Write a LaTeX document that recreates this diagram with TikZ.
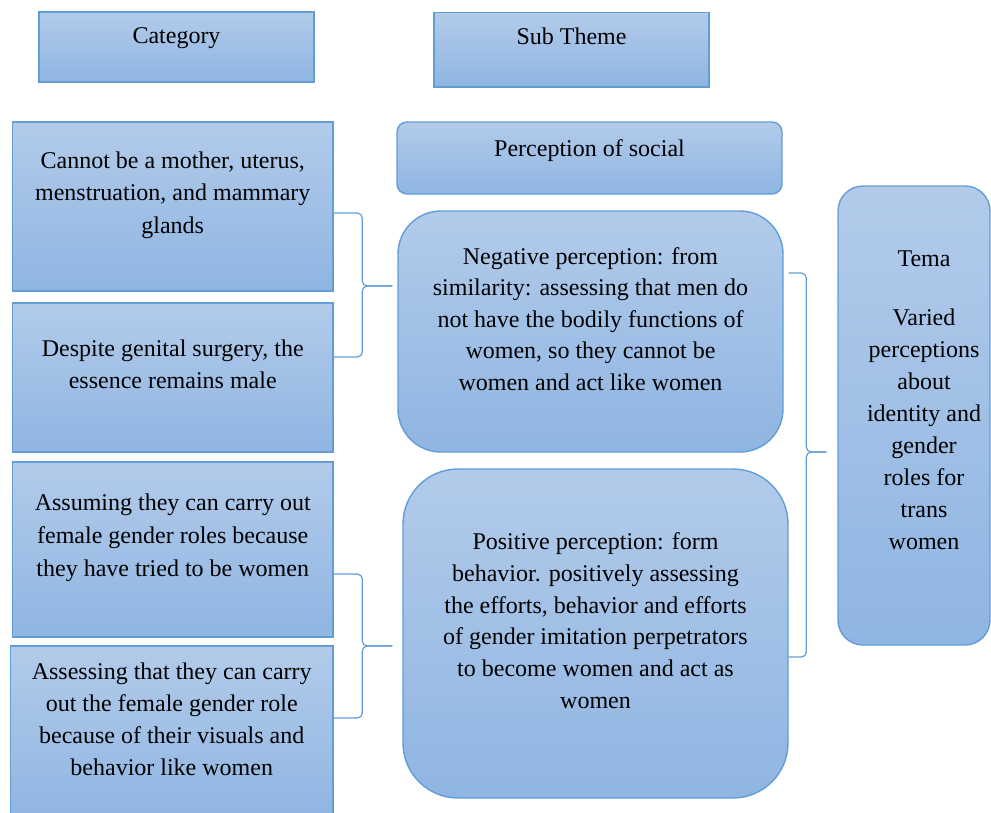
\documentclass[tikz,border=0pt]{standalone}
\usepackage{fontspec}
\setmainfont{Liberation Serif}
\usetikzlibrary{positioning}

\definecolor{boxtop}{RGB}{178,203,234}
\definecolor{boxbot}{RGB}{143,181,226}
\definecolor{boxline}{RGB}{98,157,214}

\begin{document}
\begin{tikzpicture}[x=1pt, y=-1pt,
        box/.style={rectangle, draw=boxline, line width=1.4pt, top color=boxtop, bottom color=boxbot, inner sep=0pt},
        txt/.style={align=center, inner sep=0pt, font=\fontsize{24}{#1}\selectfont},
        txt/.default=32,
        brc/.style={draw=boxline, line width=1.2pt, rounded corners=5pt}]
    \useasboundingbox (0,0) rectangle (991,812);

    % headings
    \node [box, minimum width=275pt, minimum height=70pt] (cat) at (176.5,47) {};
    \node [box, minimum width=275pt, minimum height=74.5pt] (sub) at (571.5,49.75) {};
    \node [txt, below=16pt of cat.north] (cattxt) {Category};
    \node [txt, below=15.5pt of sub.north] (subtxt) {Sub Theme};

    % categories
    \node [box, minimum width=320.5pt, minimum height=169pt] (c1) at (172.75,206.5) {};
    \node [box, minimum width=320.5pt, minimum height=149pt] (c2) at (172.75,377.5) {};
    \node [box, minimum width=320.5pt, minimum height=175pt] (c3) at (172.75,549.5) {};
    \node [box, minimum width=322.5pt, minimum height=176pt] (c4) at (171.75,734) {};
    \node [txt=32.5, below=30pt of c1.north] (c1txt) {Cannot be a mother, uterus,\\ menstruation, and mammary\\ glands};
    \node [txt=32.5, below=37pt of c2.north] (c2txt) {Despite genital surgery, the\\ essence remains male};
    \node [txt=33, below=32pt of c3.north] (c3txt) {Assuming they can carry out\\ female gender roles because\\ they have tried to be women};
    \node [txt=32, below=17pt of c4.north] (c4txt) {Assessing that they can carry\\ out the female gender role\\ because of their visuals and\\ behavior like women};

    % sub themes
    \node [box, rounded corners=10pt, minimum width=385pt, minimum height=72pt] (soc) at (589.5,158) {};
    \node [box, rounded corners=43pt, minimum width=385pt, minimum height=241pt] (neg) at (590.5,331.5) {};
    \node [box, rounded corners=55pt, minimum width=385pt, minimum height=329pt] (pos) at (595.5,633.5) {};
    \node [txt, below=18pt of soc.north] (soctxt) {Perception of social};
    \node [txt=31.4, below=37pt of neg.north] (negtxt) {Negative perception: from\\ similarity: assessing that men do\\ not have the bodily functions of\\ women, so they cannot be\\ women and act like women};
    \node [txt=31.8, below=64pt of pos.north] (postxt) {Positive perception: form\\ behavior. positively assessing\\ the efforts, behavior and efforts\\ of gender imitation perpetrators\\ to become women and act as\\ women};

    % theme
    \node [box, rounded corners=25pt, minimum width=152pt, minimum height=459pt] (tema) at (914,415.5) {};
    \node [txt, below=65pt of tema.north, xshift=10pt] (tematxt) {Tema\\[27.5pt] Varied\\ perceptions\\ about\\ identity and\\ gender\\ roles for\\ trans\\ women};

    % braces
    \coordinate (b1a) at ([yshift=-6.5pt]c1.east);
    \coordinate (b1b) at ([yshift=20.5pt]c2.east);
    \coordinate (b1t) at ([xshift=-5pt,yshift=45.5pt]neg.west);
    \coordinate (b1m) at ([xshift=-30pt]b1t);
    \draw [brc] (b1a) -| (b1m) -- (b1t);
    \draw [brc] (b1b) -| (b1m) -- (b1t);

    \coordinate (b2a) at ([yshift=-24.5pt]c3.east);
    \coordinate (b2b) at ([yshift=16pt]c4.east);
    \coordinate (b2t) at ([xshift=-10pt,yshift=-12.5pt]pos.west);
    \coordinate (b2m) at ([xshift=-30pt]b2t);
    \draw [brc] (b2a) -| (b2m) -- (b2t);
    \draw [brc] (b2b) -| (b2m) -- (b2t);

    \coordinate (b3a) at ([xshift=5pt,yshift=58.5pt]neg.east);
    \coordinate (b3b) at ([yshift=-23.5pt]pos.east);
    \coordinate (b3t) at ([xshift=-11pt,yshift=-36.5pt]tema.west);
    \coordinate (b3m) at ([xshift=-20pt]b3t);
    \draw [brc] (b3a) -| (b3m) -- (b3t);
    \draw [brc] (b3b) -| (b3m) -- (b3t);
\end{tikzpicture}
\end{document}
